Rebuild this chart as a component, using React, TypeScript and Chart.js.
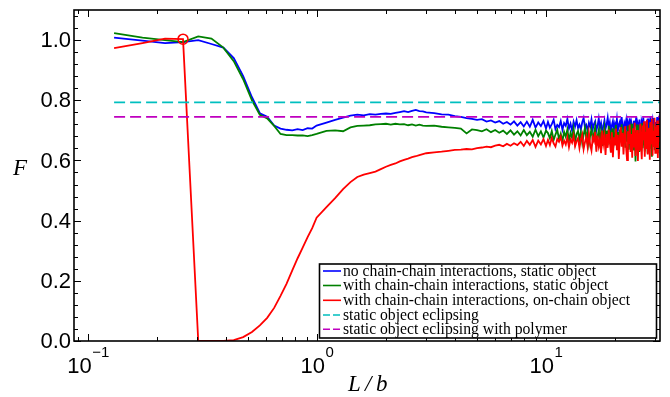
import React, { useEffect, useRef } from "react";
import { Chart, registerables } from "chart.js";

Chart.register(...registerables);

// ---- data ----
const L_A = [0.13, 0.173, 0.217, 0.26, 0.303, 0.346, 0.39, 0.433, 0.476, 0.52, 0.563, 0.606, 0.65, 0.693, 0.736, 0.78, 0.823, 0.866, 0.91, 0.953, 0.996];
const L_B = [1.1, 1.2, 1.3, 1.4, 1.5, 1.6, 1.7, 1.8, 1.9, 2.0, 2.1, 2.2, 2.3, 2.4, 2.5, 2.6, 2.7, 2.8, 2.9, 3.0];
const L_C = [3.25, 3.5, 3.75, 4.0, 4.25, 4.5, 4.75, 5.0, 5.25, 5.5, 5.75, 6.0, 6.25, 6.5, 6.75, 7.0, 7.25, 7.5, 7.75, 8.0, 8.25, 8.5, 8.75, 9.0, 9.25, 9.5, 9.75, 10.0];
const L_D = [
  10.2, 10.4, 10.6, 10.8, 11.0, 11.2, 11.4, 11.6, 11.8, 12.0,
  12.2, 12.4, 12.6, 12.8, 13.0, 13.2, 13.4, 13.6, 13.8, 14.0,
  14.2, 14.4, 14.6, 14.8, 15.0, 15.2, 15.4, 15.6, 15.8, 16.0,
  16.2, 16.4, 16.6, 16.8, 17.0, 17.2, 17.4, 17.6, 17.8, 18.0,
  18.2, 18.4, 18.6, 18.8, 19.0, 19.2, 19.4, 19.6, 19.8, 20.0,
  20.2, 20.4, 20.6, 20.8, 21.0, 21.2, 21.4, 21.6, 21.8, 22.0,
  22.2, 22.4, 22.6, 22.8, 23.0, 23.2, 23.4, 23.6, 23.8, 24.0,
  24.2, 24.4, 24.6, 24.8, 25.0, 25.2, 25.4, 25.6, 25.8, 26.0,
  26.2, 26.4, 26.6, 26.8, 27.0, 27.2, 27.4, 27.6, 27.8, 28.0,
  28.2, 28.4, 28.6, 28.8, 29.0, 29.2, 29.4, 29.6, 29.8, 30.0,
  30.2, 30.4, 30.6, 30.8, 31.0, 31.2, 31.4,
];

const BLUE_A = [1.008, 0.998, 0.99, 0.993, 1.0, 0.987, 0.975, 0.94, 0.88, 0.81, 0.757, 0.745, 0.716, 0.706, 0.702, 0.7, 0.704, 0.701, 0.707, 0.706, 0.716];
const BLUE_B = [0.726, 0.735, 0.742, 0.749, 0.752, 0.75, 0.754, 0.752, 0.755, 0.756, 0.755, 0.758, 0.761, 0.764, 0.761, 0.765, 0.768, 0.764, 0.763, 0.76];
const BLUE_C = [0.757, 0.753, 0.752, 0.747, 0.745, 0.741, 0.738, 0.735, 0.737, 0.729, 0.733, 0.726, 0.731, 0.722, 0.728, 0.719, 0.73, 0.716, 0.727, 0.713, 0.729, 0.712, 0.735, 0.709, 0.726, 0.714, 0.731, 0.706];
const BLUE_D = [
  0.728, 0.709, 0.721, 0.735, 0.704, 0.718, 0.711, 0.731, 0.702, 0.724,
  0.715, 0.738, 0.706, 0.722, 0.699, 0.729, 0.713, 0.734, 0.708, 0.719,
  0.703, 0.727, 0.741, 0.71, 0.718, 0.697, 0.725, 0.712, 0.736, 0.704,
  0.721, 0.73, 0.7, 0.716, 0.739, 0.707, 0.724, 0.698, 0.714, 0.733,
  0.705, 0.72, 0.742, 0.709, 0.726, 0.696, 0.717, 0.731, 0.702, 0.723,
  0.711, 0.737, 0.699, 0.719, 0.728, 0.704, 0.744, 0.712, 0.7, 0.725,
  0.716, 0.734, 0.697, 0.722, 0.708, 0.74, 0.703, 0.727, 0.714, 0.698,
  0.732, 0.71, 0.723, 0.745, 0.701, 0.718, 0.706, 0.736, 0.712, 0.699,
  0.726, 0.715, 0.743, 0.704, 0.72, 0.697, 0.73, 0.709, 0.739, 0.702,
  0.724, 0.713, 0.747, 0.698, 0.719, 0.733, 0.705, 0.741, 0.71, 0.695,
  0.728, 0.716, 0.744, 0.703, 0.722, 0.737, 0.708,
];

const GREEN_A = [1.023, 1.008, 1.0, 0.993, 1.012, 1.005, 0.975, 0.93, 0.87, 0.8, 0.752, 0.74, 0.715, 0.688, 0.684, 0.684, 0.683, 0.683, 0.681, 0.684, 0.688];
const GREEN_B = [0.698, 0.7, 0.697, 0.71, 0.715, 0.716, 0.717, 0.72, 0.721, 0.722, 0.719, 0.722, 0.72, 0.721, 0.717, 0.72, 0.716, 0.719, 0.716, 0.715];
const GREEN_C = [0.716, 0.712, 0.71, 0.708, 0.706, 0.69, 0.703, 0.701, 0.697, 0.704, 0.694, 0.701, 0.692, 0.699, 0.688, 0.7, 0.686, 0.697, 0.683, 0.701, 0.684, 0.695, 0.679, 0.702, 0.681, 0.697, 0.676, 0.699];
const GREEN_D = [
  0.691, 0.674, 0.698, 0.668, 0.686, 0.702, 0.671, 0.689, 0.664, 0.695,
  0.679, 0.703, 0.666, 0.692, 0.675, 0.707, 0.661, 0.688, 0.698, 0.669,
  0.694, 0.658, 0.685, 0.709, 0.672, 0.696, 0.655, 0.683, 0.704, 0.667,
  0.69, 0.712, 0.653, 0.679, 0.701, 0.664, 0.695, 0.648, 0.686, 0.71,
  0.668, 0.699, 0.651, 0.715, 0.676, 0.692, 0.645, 0.707, 0.662, 0.688,
  0.718, 0.655, 0.694, 0.64, 0.703, 0.671, 0.72, 0.649, 0.686, 0.711,
  0.642, 0.697, 0.665, 0.716, 0.636, 0.69, 0.706, 0.652, 0.722, 0.67,
  0.633, 0.701, 0.597, 0.684, 0.719, 0.646, 0.693, 0.628, 0.712, 0.66,
  0.724, 0.641, 0.689, 0.705, 0.63, 0.716, 0.657, 0.698, 0.623, 0.708,
  0.665, 0.726, 0.639, 0.694, 0.612, 0.713, 0.652, 0.72, 0.634, 0.702,
  0.648, 0.717, 0.627, 0.709, 0.661, 0.725, 0.64,
];

const RED_A = [0.973, 0.99, 1.005, 1.003, 0, 0, 0, 0.003, 0.013, 0.03, 0.052, 0.077, 0.11, 0.15, 0.19, 0.235, 0.275, 0.31, 0.345, 0.375, 0.41];
const RED_B = [0.445, 0.475, 0.505, 0.528, 0.545, 0.553, 0.558, 0.563, 0.571, 0.579, 0.585, 0.59, 0.597, 0.602, 0.606, 0.611, 0.614, 0.618, 0.621, 0.624];
const RED_C = [0.627, 0.629, 0.632, 0.635, 0.636, 0.638, 0.637, 0.641, 0.643, 0.646, 0.644, 0.649, 0.652, 0.647, 0.655, 0.649, 0.657, 0.651, 0.662, 0.648, 0.665, 0.652, 0.668, 0.645, 0.666, 0.653, 0.671, 0.648];
const RED_D = [
  0.668, 0.651, 0.675, 0.657, 0.646, 0.671, 0.662, 0.679, 0.649, 0.666,
  0.653, 0.677, 0.644, 0.67, 0.659, 0.682, 0.647, 0.664, 0.674, 0.641,
  0.669, 0.686, 0.638, 0.661, 0.679, 0.645, 0.691, 0.652, 0.633, 0.676,
  0.664, 0.695, 0.629, 0.683, 0.648, 0.67, 0.624, 0.699, 0.656, 0.681,
  0.618, 0.688, 0.642, 0.703, 0.659, 0.626, 0.694, 0.611, 0.677, 0.65,
  0.706, 0.634, 0.685, 0.605, 0.672, 0.711, 0.646, 0.692, 0.62, 0.68,
  0.714, 0.638, 0.601, 0.697, 0.655, 0.719, 0.628, 0.688, 0.609, 0.707,
  0.643, 0.725, 0.615, 0.678, 0.701, 0.598, 0.69, 0.632, 0.722, 0.651,
  0.604, 0.716, 0.667, 0.73, 0.612, 0.695, 0.641, 0.735, 0.62, 0.684,
  0.708, 0.602, 0.728, 0.657, 0.739, 0.616, 0.699, 0.645, 0.742, 0.625,
  0.712, 0.638, 0.733, 0.608, 0.72, 0.664, 0.736,
];

const MARKER_L = [0.26];
const MARKER_F = [1.003];

const STATIC_ECLIPSE = 0.793;
const POLYMER_ECLIPSE = 0.745;
const REF_LINE_L = [0.13, 31.47];

const LEGEND_LABELS = [
  "no chain-chain interactions, static object",
  "with chain-chain interactions, static object",
  "with chain-chain interactions, on-chain object",
  "static object eclipsing",
  "static object eclipsing with polymer",
];
const COLORS = ["#0000ff", "#008000", "#ff0000", "#00bfbf", "#bf00bf"];

const X_MIN = 0.08687;
const X_MAX = 31.47;
const Y_MIN = 0;
const Y_MAX = 1.1;
const X_MAJOR = [0.1, 1, 10];
const X_MAJOR_EXP = ["\u22121", "0", "1"];
const X_MINOR = [0.09, 0.2, 0.3, 0.4, 0.5, 0.6, 0.7, 0.8, 0.9, 2, 3, 4, 5, 6, 7, 8, 9, 20, 30];
const Y_MAJOR = [0, 0.2, 0.4, 0.6, 0.8, 1.0];
const Y_MAJOR_LABELS = ["0.0", "0.2", "0.4", "0.6", "0.8", "1.0"];
const Y_MINOR = [0.04, 0.08, 0.12, 0.16, 0.24, 0.28, 0.32, 0.36, 0.44, 0.48, 0.52, 0.56, 0.64, 0.68, 0.72, 0.76, 0.84, 0.88, 0.92, 0.96, 1.04, 1.08];

const L_ALL = [...L_A, ...L_B, ...L_C, ...L_D];
const BLUE = [...BLUE_A, ...BLUE_B, ...BLUE_C, ...BLUE_D];
const GREEN = [...GREEN_A, ...GREEN_B, ...GREEN_C, ...GREEN_D];
const RED = [...RED_A, ...RED_B, ...RED_C, ...RED_D];

const SANS = '"Liberation Sans", Arial, Helvetica, sans-serif';
const SERIF = '"Liberation Serif", "Times New Roman", serif';

const framePlugin = {
  id: "frame",
  afterDraw(chart: any) {
    const { ctx, chartArea: a, scales } = chart;
    const xs = scales.x;
    const ys = scales.y;
    ctx.save();
    ctx.strokeStyle = "#000";
    ctx.fillStyle = "#000";
    ctx.lineWidth = 1;
    const tick = (x1: number, y1: number, x2: number, y2: number) => {
      ctx.beginPath();
      ctx.moveTo(x1, y1);
      ctx.lineTo(x2, y2);
      ctx.stroke();
    };
    X_MAJOR.forEach((v) => {
      const x = Math.round(xs.getPixelForValue(v)) + 0.5;
      tick(x, a.bottom, x, a.bottom - 7);
      tick(x, a.top, x, a.top + 7);
    });
    X_MINOR.forEach((v) => {
      const x = Math.round(xs.getPixelForValue(v)) + 0.5;
      tick(x, a.bottom, x, a.bottom - 4);
      tick(x, a.top, x, a.top + 4);
    });
    Y_MAJOR.forEach((v) => {
      const y = Math.round(ys.getPixelForValue(v)) + 0.5;
      tick(a.left, y, a.left + 7, y);
      tick(a.right, y, a.right - 7, y);
    });
    Y_MINOR.forEach((v) => {
      const y = Math.round(ys.getPixelForValue(v)) + 0.5;
      tick(a.left, y, a.left + 4, y);
      tick(a.right, y, a.right - 4, y);
    });
    ctx.lineWidth = 1.6;
    ctx.strokeRect(a.left, a.top, a.right - a.left, a.bottom - a.top);

    // y tick labels
    ctx.font = "22px " + SANS;
    ctx.textAlign = "right";
    ctx.textBaseline = "middle";
    Y_MAJOR.forEach((v, i) => {
      const y = ys.getPixelForValue(v);
      ctx.fillText(Y_MAJOR_LABELS[i], a.left - 3, y + 1);
    });
    // x tick labels with superscript
    ctx.textAlign = "left";
    ctx.textBaseline = "alphabetic";
    X_MAJOR.forEach((v, i) => {
      const cx = xs.getPixelForValue(v);
      ctx.font = "22px " + SANS;
      const wb = ctx.measureText("10").width;
      ctx.font = "15px " + SANS;
      const we = ctx.measureText(X_MAJOR_EXP[i]).width;
      const x0 = cx - (wb + we) / 2;
      ctx.font = "22px " + SANS;
      ctx.fillText("10", x0, a.bottom + 32);
      ctx.font = "15px " + SANS;
      ctx.fillText(X_MAJOR_EXP[i], x0 + wb + 0.5, a.bottom + 16);
    });

    // axis titles
    ctx.font = "italic 23px " + SERIF;
    ctx.fillText("F", 13, 175);
    ctx.fillText("L", 348, 391);
    ctx.fillText("/", 365, 391);
    ctx.fillText("b", 376, 391);

    // legend
    const lx = 319.5, ly = 264, lw = 337, lh = 74;
    ctx.fillStyle = "#fff";
    ctx.fillRect(lx, ly, lw, lh);
    ctx.lineWidth = 1.6;
    ctx.strokeStyle = "#000";
    ctx.strokeRect(lx, ly, lw, lh);
    const rows = [271, 285.5, 300.3, 315, 329.3];
    ctx.font = "15.7px " + SERIF;
    ctx.textBaseline = "alphabetic";
    LEGEND_LABELS.forEach((lab, i) => {
      const y = rows[i];
      ctx.strokeStyle = COLORS[i];
      ctx.lineWidth = 1.6;
      ctx.setLineDash(i >= 3 ? [7, 3] : []);
      ctx.beginPath();
      ctx.moveTo(323, y);
      ctx.lineTo(341, y);
      ctx.stroke();
      ctx.setLineDash([]);
      ctx.fillStyle = "#000";
      ctx.fillText(lab, 343, y + 4.5);
    });
    ctx.restore();
  },
};

export default function App() {
  const ref = useRef<HTMLCanvasElement | null>(null);
  useEffect(() => {
    if (!ref.current) return;
    const line = (vals: number[]) => L_ALL.map((x, i) => ({ x, y: vals[i] }));
    const chart = new Chart(ref.current, {
      type: "line",
      data: {
        datasets: [
          { label: LEGEND_LABELS[0], data: line(BLUE), borderColor: COLORS[0], borderWidth: 1.8, pointRadius: 0, order: 4 },
          { label: LEGEND_LABELS[1], data: line(GREEN), borderColor: COLORS[1], borderWidth: 1.8, pointRadius: 0, order: 3 },
          { label: LEGEND_LABELS[2], data: line(RED), borderColor: COLORS[2], borderWidth: 1.8, pointRadius: 0, order: 2 },
          {
            label: "marker",
            data: MARKER_L.map((x, i) => ({ x, y: MARKER_F[i] })),
            showLine: false,
            pointRadius: 5,
            pointBorderWidth: 1.5,
            pointBorderColor: COLORS[2],
            pointBackgroundColor: "rgba(0,0,0,0)",
            borderColor: COLORS[2],
            order: 1,
          },
          {
            label: LEGEND_LABELS[3],
            data: REF_LINE_L.map((x) => ({ x, y: STATIC_ECLIPSE })),
            borderColor: COLORS[3],
            borderWidth: 1.8,
            borderDash: [11, 5],
            pointRadius: 0,
            order: 0,
          },
          {
            label: LEGEND_LABELS[4],
            data: REF_LINE_L.map((x) => ({ x, y: POLYMER_ECLIPSE })),
            borderColor: COLORS[4],
            borderWidth: 1.8,
            borderDash: [11, 5],
            pointRadius: 0,
            order: 0,
          },
        ],
      },
      options: {
        responsive: false,
        animation: false,
        devicePixelRatio: 1,
        layout: { padding: { left: 74, right: 10, top: 10, bottom: 56 } },
        plugins: { legend: { display: false }, tooltip: { enabled: false } },
        elements: { line: { tension: 0 } },
        scales: {
          x: { type: "logarithmic", min: X_MIN, max: X_MAX, display: false },
          y: { type: "linear", min: Y_MIN, max: Y_MAX, display: false },
        },
      },
      plugins: [framePlugin],
    } as any);
    return () => chart.destroy();
  }, []);
  return (
    <div style={{ position: "fixed", left: 0, top: 0, width: 670, height: 397, background: "#fff" }}>
      <canvas ref={ref} width={670} height={397} style={{ display: "block" }} />
    </div>
  );
}
